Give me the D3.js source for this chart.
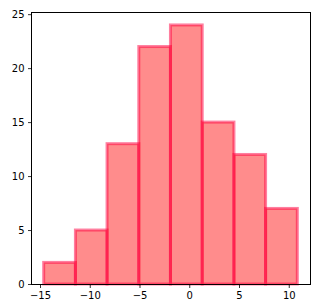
<!DOCTYPE html>
<html>
<head>
<meta charset="utf-8">
<script src="https://cdn.jsdelivr.net/npm/d3@7"></script>
<style>
  body { margin: 0; background: #fff; }
  text { font-family: "DejaVu Sans", sans-serif; font-size: 10px; fill: #000; }
</style>
</head>
<body>
<script>
// histogram bins (edges) and counts
var binEdges = [-14.63, -11.44, -8.26, -5.07, -1.89, 1.30, 4.49, 7.67, 10.86];
var counts = [2, 5, 13, 22, 24, 15, 12, 7];
var xTicks = [-15, -10, -5, 0, 5, 10];
var yTicks = [0, 5, 10, 15, 20, 25];

var width = 324, height = 308;
var margin = {top: 12, right: 14, bottom: 24, left: 31};

var svg = d3.select("body").append("svg")
  .attr("width", width).attr("height", height);

// matplotlib-like 5% margins on x, 5% on top of y
var span = binEdges[binEdges.length - 1] - binEdges[0];
var x = d3.scaleLinear()
  .domain([binEdges[0] - 0.05 * span, binEdges[binEdges.length - 1] + 0.05 * span])
  .range([margin.left, width - margin.right]);
var y = d3.scaleLinear()
  .domain([0, d3.max(counts) * 1.05])
  .range([height - margin.bottom, margin.top]);

var bins = counts.map(function(c, i) {
  return {x0: binEdges[i], x1: binEdges[i + 1], n: c};
});

svg.append("g").selectAll("rect")
  .data(bins)
  .enter().append("rect")
  .attr("x", function(d) { return x(d.x0); })
  .attr("width", function(d) { return x(d.x1) - x(d.x0); })
  .attr("y", function(d) { return y(d.n); })
  .attr("height", function(d) { return y(0) - y(d.n); })
  .attr("fill", "red")
  .attr("fill-opacity", 0.45)
  .attr("stroke", "rgb(255,0,64)")
  .attr("stroke-opacity", 0.5)
  .attr("stroke-width", 3);

// frame
svg.append("rect")
  .attr("x", margin.left + 0.5).attr("y", margin.top + 0.5)
  .attr("width", width - margin.right - margin.left)
  .attr("height", height - margin.bottom - margin.top)
  .attr("fill", "none").attr("stroke", "#000").attr("stroke-width", 1);

var xAxis = svg.append("g")
  .attr("transform", "translate(0," + (height - margin.bottom + 0.5) + ")")
  .call(d3.axisBottom(x).tickValues(xTicks).tickSize(3.5).tickPadding(3.5)
    .tickFormat(function(d) { return d < 0 ? "\u2212" + Math.abs(d) : d; }));
var yAxis = svg.append("g")
  .attr("transform", "translate(" + (margin.left + 0.5) + ",0)")
  .call(d3.axisLeft(y).tickValues(yTicks).tickSize(3.5).tickPadding(3.5));

[xAxis, yAxis].forEach(function(a) {
  a.select(".domain").remove();
  a.selectAll(".tick line").attr("stroke", "#000").attr("stroke-width", 0.8);
  a.selectAll(".tick text").attr("fill", "#000").style("font-size", "10px")
    .style("font-family", "DejaVu Sans, sans-serif");
});
</script>
</body>
</html>
